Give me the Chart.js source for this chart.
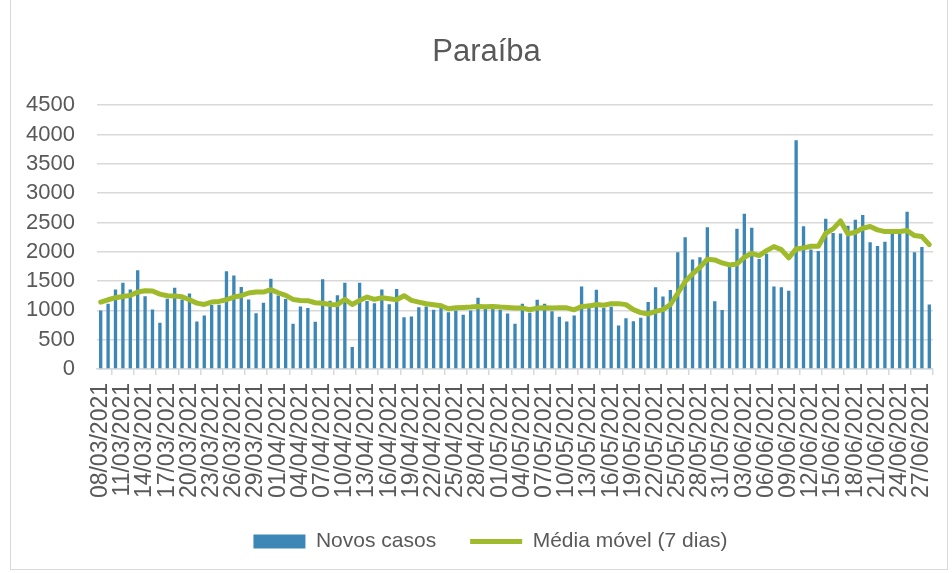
<!DOCTYPE html>
<html>
<head>
<meta charset="utf-8">
<script src="https://cdn.jsdelivr.net/npm/chart.js@4.4.1/dist/chart.umd.min.js"></script>
<style>
  html, body { margin: 0; padding: 0; background: #fff; }
  #wrap { position: relative; width: 952px; height: 573px; overflow: hidden; }
  #frame { position: absolute; left: 10px; top: -2px; width: 938px; height: 572px; border: 1px solid #d9d9d9; box-sizing: border-box; }
  canvas { position: absolute; left: 0; top: 0; }
</style>
</head>
<body>
<div id="wrap">
  <div id="frame"></div>
  <canvas id="grafico" width="952" height="573"></canvas>
</div>
<script>
const dias = [
  '08/03/2021','09/03/2021','10/03/2021','11/03/2021','12/03/2021','13/03/2021','14/03/2021','15/03/2021',
  '16/03/2021','17/03/2021','18/03/2021','19/03/2021','20/03/2021','21/03/2021','22/03/2021','23/03/2021',
  '24/03/2021','25/03/2021','26/03/2021','27/03/2021','28/03/2021','29/03/2021','30/03/2021','31/03/2021',
  '01/04/2021','02/04/2021','03/04/2021','04/04/2021','05/04/2021','06/04/2021','07/04/2021','08/04/2021',
  '09/04/2021','10/04/2021','11/04/2021','12/04/2021','13/04/2021','14/04/2021','15/04/2021','16/04/2021',
  '17/04/2021','18/04/2021','19/04/2021','20/04/2021','21/04/2021','22/04/2021','23/04/2021','24/04/2021',
  '25/04/2021','26/04/2021','27/04/2021','28/04/2021','29/04/2021','30/04/2021',
  '01/05/2021','02/05/2021','03/05/2021','04/05/2021','05/05/2021','06/05/2021','07/05/2021','08/05/2021',
  '09/05/2021','10/05/2021','11/05/2021','12/05/2021','13/05/2021','14/05/2021','15/05/2021','16/05/2021',
  '17/05/2021','18/05/2021','19/05/2021','20/05/2021','21/05/2021','22/05/2021','23/05/2021','24/05/2021',
  '25/05/2021','26/05/2021','27/05/2021','28/05/2021','29/05/2021','30/05/2021','31/05/2021',
  '01/06/2021','02/06/2021','03/06/2021','04/06/2021','05/06/2021','06/06/2021','07/06/2021','08/06/2021',
  '09/06/2021','10/06/2021','11/06/2021','12/06/2021','13/06/2021','14/06/2021','15/06/2021','16/06/2021',
  '17/06/2021','18/06/2021','19/06/2021','20/06/2021','21/06/2021','22/06/2021','23/06/2021','24/06/2021',
  '25/06/2021','26/06/2021','27/06/2021','28/06/2021'
];

const novosCasos = [
  1000, 1113, 1355, 1470, 1355, 1683, 1240, 1015, 787, 1200,
  1387, 1186, 1287, 810, 912, 1090, 1095, 1666, 1597, 1397,
  1186, 952, 1132, 1541, 1255, 1195, 772, 1067, 1040, 805,
  1529, 1164, 1260, 1472, 377, 1472, 1158, 1123, 1358, 1106,
  1364, 884, 895, 1055, 1067, 1010, 1113, 969, 998, 924,
  998, 1215, 1027, 1095, 1010, 947, 770, 1113, 958, 1181,
  1113, 986, 890, 810, 912, 1409, 1113, 1352, 1041, 1064,
  740, 865, 814, 876, 1144, 1394, 1235, 1349, 1992, 2248,
  1866, 1906, 2418, 1155, 1008, 1792, 2394, 2650, 2410, 1878,
  1966, 1407, 1395, 1333, 3903, 2433, 2037, 2011, 2564, 2322,
  2313, 2444, 2547, 2626, 2162, 2100, 2170, 2313, 2308, 2684,
  1992, 2080, 1100
];

const mediaMovel = [
  1141, 1181, 1216, 1238, 1256, 1313, 1335, 1330, 1278, 1250,
  1244, 1233, 1181, 1124, 1101, 1141, 1153, 1181, 1227, 1250,
  1296, 1313, 1313, 1353, 1301, 1256, 1187, 1170, 1165, 1130,
  1120, 1100, 1098, 1190, 1101, 1170, 1227, 1187, 1216, 1198,
  1181, 1250, 1170, 1141, 1113, 1096, 1079, 1027, 1044, 1050,
  1056, 1067, 1061, 1067, 1056, 1050, 1039, 1039, 1010, 1039,
  1044, 1039, 1044, 1044, 1010, 1067, 1073, 1101, 1087, 1115,
  1115, 1098, 1013, 962, 939, 984, 1013, 1098, 1292, 1491,
  1622, 1735, 1872, 1861, 1809, 1775, 1792, 1906, 1974, 1935,
  2020, 2088, 2037, 1895, 2048, 2066, 2094, 2094, 2316, 2390,
  2526, 2304, 2333, 2401, 2430, 2373, 2344, 2344, 2344, 2361,
  2276, 2259, 2122
];

const yMin = 0;
const yMax = 4500;
const yPasso = 500;

const cinza = '#595959';
const linhaGrade = '#d9d9d9';
const fonte = 'Liberation Sans';

// empurra titulo e legenda para a direita, como no Excel
const ajuste = {
  id: 'ajuste',
  afterLayout(chart) {
    chart.titleBlock.left += 20;
    chart.titleBlock.right += 20;
    chart.legend.left += 24;
    chart.legend.right += 24;
  }
};

const ctx = document.getElementById('grafico').getContext('2d');

new Chart(ctx, {
  type: 'bar',
  plugins: [ajuste],
  data: {
    labels: dias,
    datasets: [
      {
        type: 'bar',
        label: 'Novos casos',
        data: novosCasos,
        backgroundColor: '#3c87b5',
        barPercentage: 0.45,
        categoryPercentage: 1,
        pointStyle: 'rect',
        order: 1
      },
      {
        type: 'line',
        label: 'Média móvel (7 dias)',
        data: mediaMovel,
        borderColor: '#9fba2a',
        backgroundColor: '#9fba2a',
        borderWidth: 5,
        pointRadius: 0,
        tension: 0,
        borderJoinStyle: 'round',
        borderCapStyle: 'round',
        pointStyle: 'line',
        order: 0
      }
    ]
  },
  options: {
    responsive: false,
    animation: false,
    devicePixelRatio: 1,
    layout: { padding: { left: 0, right: 19, top: 0, bottom: 11 } },
    plugins: {
      title: {
        display: true,
        text: 'Paraíba',
        color: cinza,
        font: { family: fonte, size: 31, weight: 'normal' },
        padding: { top: 34, bottom: 34 }
      },
      legend: {
        position: 'bottom',
        labels: {
          usePointStyle: true,
          pointStyleWidth: 52,
          boxHeight: 14,
          padding: 34,
          color: cinza,
          font: { family: fonte, size: 21 },
          sort: (a, b) => a.datasetIndex - b.datasetIndex
        }
      },
      tooltip: { enabled: false }
    },
    scales: {
      x: {
        grid: { drawOnChartArea: false, drawTicks: true, tickLength: 6, color: linhaGrade, lineWidth: 1.5 },
        border: { color: linhaGrade, width: 1.5 },
        ticks: {
          autoSkip: false,
          minRotation: 90,
          maxRotation: 90,
          padding: 8,
          color: cinza,
          font: { family: fonte, size: 23 },
          callback: function (v, i) {
            return i % 3 === 0 ? this.getLabelForValue(v) : null;
          }
        },
        afterFit: s => {
          s.height = 128;
          s.paddingLeft = 0;
          s.paddingRight = 0;
        }
      },
      y: {
        min: yMin,
        max: yMax,
        ticks: {
          stepSize: yPasso,
          autoSkip: false,
          padding: 22,
          color: cinza,
          font: { family: fonte, size: 22 },
          callback: v => String(v)
        },
        grid: { color: linhaGrade, lineWidth: 1.5, drawTicks: false },
        border: { display: false },
        afterFit: s => { s.width = 97; }
      }
    }
  }
});
</script>
</body>
</html>
